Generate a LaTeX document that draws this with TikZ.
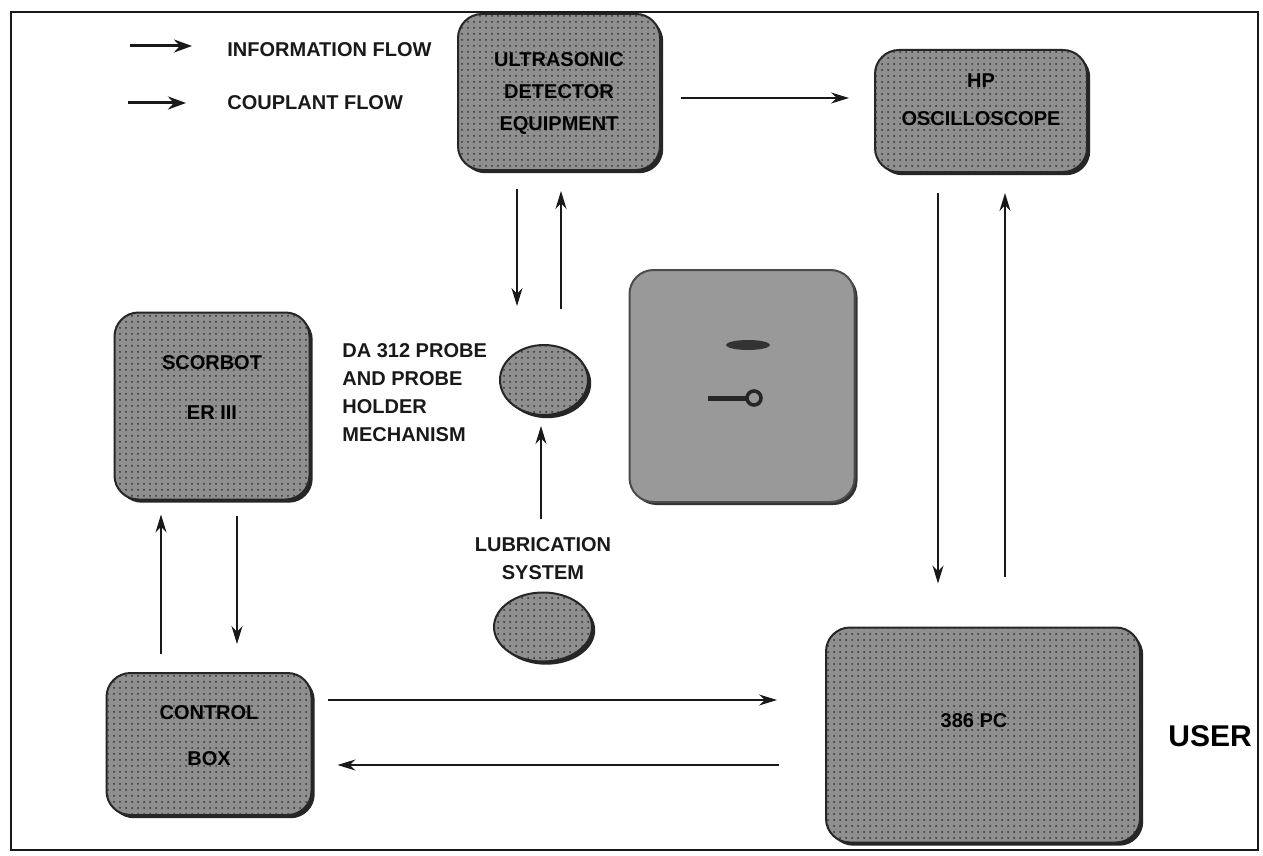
\documentclass[tikz,border=0pt]{standalone}
\usepackage{fontspec}
\setmainfont{Liberation Sans}
\usetikzlibrary{arrows.meta,shapes.geometric,patterns,shadows}
\tikzset{
  tex/.style={fill=black!44, postaction={pattern=dots, pattern color=black!80},
    draw=black!85, line width=1pt},
  sh/.style={drop shadow={shadow xshift=1.6pt,shadow yshift=-1.6pt,fill=black!85,opacity=1}},
  box/.style={tex, sh, rounded corners=12pt, inner sep=0pt},
  boxtext/.style={align=center, inner sep=0pt, font=\bfseries\fontsize{10}{12}\selectfont, text=black},
  oval/.style={ellipse, tex, sh, inner sep=0pt},
  lbl/.style={font=\bfseries\fontsize{10}{14}\selectfont, text=black!90, inner sep=0pt},
  arr/.style={draw=black!90, line width=0.8pt, -{Stealth[length=9pt,width=5.5pt]}},
  legarr/.style={draw=black!90, line width=1.5pt, -{Stealth[length=9pt,width=6.5pt]}}
}
\begin{document}
\begin{tikzpicture}[x=0.5pt,y=-0.5pt]
\useasboundingbox (0,0) rectangle (1263,856);
\fill[white] (0,0) rectangle (1263,856);
\draw[line width=1.2pt, black!90] (11,12) rectangle (1258,850);

% legend
\coordinate (l1a) at (130,46); \coordinate (l1b) at (192,46);
\coordinate (l2a) at (128,103); \coordinate (l2b) at (186,103);
\draw[legarr] (l1a) -- (l1b);
\draw[legarr] (l2a) -- (l2b);
\node[lbl, anchor=west] (leg1) at (227,50) {INFORMATION FLOW};
\node[lbl, anchor=west] (leg2) at (227,103) {COUPLANT FLOW};

% boxes
\node[box, minimum width=101pt, minimum height=78pt] (us) at (559,92) {};
\node[boxtext] (ust) at (559,93) {ULTRASONIC\\[4pt]DETECTOR\\[4pt]EQUIPMENT};
\node[box, minimum width=106pt, minimum height=61pt] (hp) at (981,111) {};
\node[boxtext] (hpt) at (981,100) {HP\\[7pt]OSCILLOSCOPE};
\node[box, minimum width=97.5pt, minimum height=93.5pt] (sc) at (212,406) {};
\node[boxtext] (sct) at (212,388) {SCORBOT\\[13pt]ER III};
\node[box, minimum width=102.5pt, minimum height=71pt] (cb) at (209,744) {};
\node[boxtext] (cbt) at (209,736) {CONTROL\\[11pt]BOX};
\node[box, minimum width=157pt, minimum height=107.5pt] (pc) at (983,735) {};
\node[boxtext] (pct) at (974,721) {386 PC};

% central grey box
\node[rounded corners=12pt, fill=black!40, draw=black!70, line width=1pt,
  drop shadow={shadow xshift=1.5pt,shadow yshift=-1.5pt,fill=black!80,opacity=1},
  minimum width=112.5pt, minimum height=116pt, inner sep=0pt] (gb) at (742,386) {};
\fill[black!80] (748,345) ellipse (11pt and 2.5pt);
\draw[black!85, line width=2.5pt] (708,398) -- (748,398);
\draw[black!85, line width=1.8pt] (754,398) circle (3.5pt);

% ovals
\node[oval, minimum width=44pt, minimum height=35pt] (pr) at (544,380) {};
\node[oval, minimum width=49pt, minimum height=34.5pt] (lu) at (543,627) {};
\node[lbl, anchor=north west, align=left] (prl) at (342,343)
  {DA 312 PROBE\\AND PROBE\\HOLDER\\MECHANISM};
\node[lbl, align=center] (lul) at (543,559) {LUBRICATION\\SYSTEM};
\node[font=\bfseries\fontsize{15}{18}\selectfont, inner sep=0pt, anchor=west] (user) at (1168,736) {USER};

% arrows
\draw[arr, shorten <=10pt, shorten >=12.5pt] (us.east |- 0,98) -- (hp.west |- 0,98);
\draw[arr, shorten <=9pt, shorten >=19pt] (517,0 |- us.south) -- (517,0 |- pr.north);
\draw[arr, shorten <=17.5pt, shorten >=10pt] (561,0 |- pr.north) -- (561,0 |- us.south);
\draw[arr, shorten <=36.5pt, shorten >=5pt] (541,0 |- lu.north) -- (541,0 |- pr.south);
\draw[arr, shorten <=10pt, shorten >=21.5pt] (938,0 |- hp.south) -- (938,0 |- pc.north);
\draw[arr, shorten <=25pt, shorten >=10pt] (1005,0 |- pc.north) -- (1005,0 |- hp.south);
\draw[arr, shorten <=9pt, shorten >=7pt] (161,0 |- cb.north) -- (161,0 |- sc.south);
\draw[arr, shorten <=7.5pt, shorten >=14pt] (237,0 |- sc.south) -- (237,0 |- cb.north);
\draw[arr, shorten <=7.5pt, shorten >=24pt] (cb.east |- 0,700) -- (pc.west |- 0,700);
\draw[arr, shorten <=23pt, shorten >=12.5pt] (pc.west |- 0,765) -- (cb.east |- 0,765);
\end{tikzpicture}
\end{document}
